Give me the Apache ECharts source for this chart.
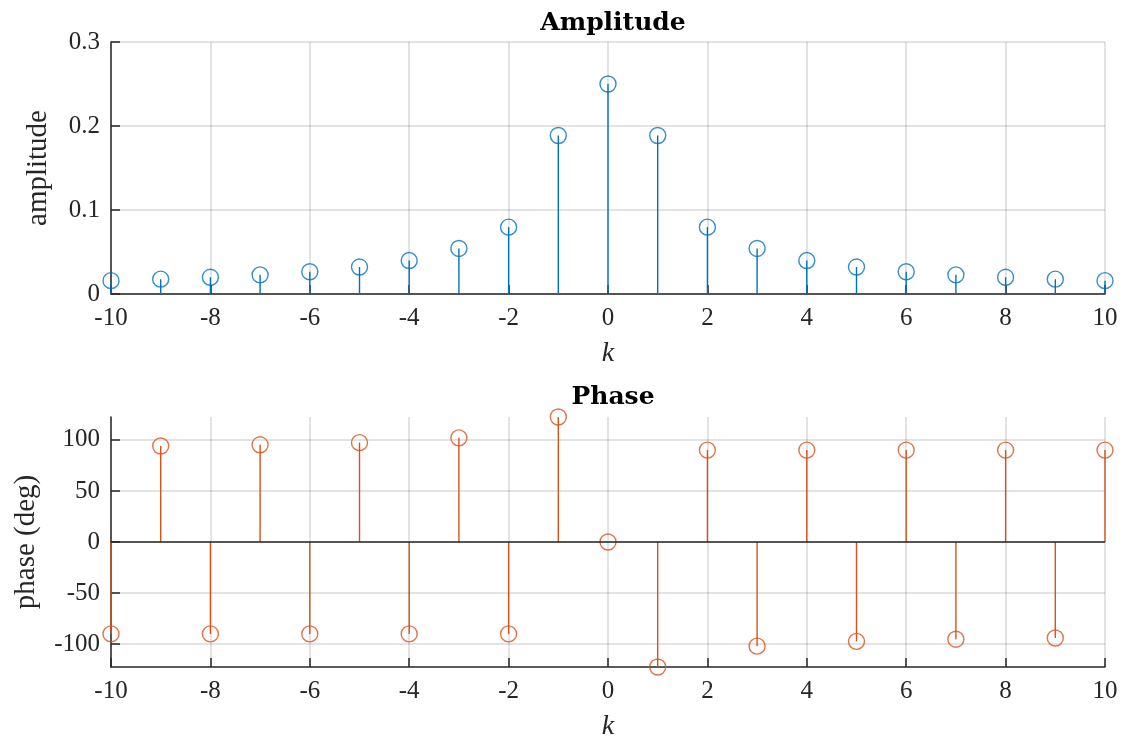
<!DOCTYPE html>
<html>
<head>
<meta charset="utf-8">
<script src="https://cdn.jsdelivr.net/npm/echarts@6/dist/echarts.min.js"></script>
<style>
  html, body { margin: 0; padding: 0; background: #fff; }
  #main { width: 1126px; height: 740px; }
</style>
</head>
<body>
<div id="main"></div>
<script>
var ks = [-10, -9, -8, -7, -6, -5, -4, -3, -2, -1, 0, 1, 2, 3, 4, 5, 6, 7, 8, 9, 10];
var amplitude = [0.0159, 0.0177, 0.0199, 0.0228, 0.0265, 0.0321, 0.0398, 0.0542, 0.0796, 0.1887, 0.25,
                 0.1887, 0.0796, 0.0542, 0.0398, 0.0321, 0.0265, 0.0228, 0.0199, 0.0177, 0.0159];
var phase = [-90, 94.0, -90, 95.2, -90, 97.3, -90, 102.0, -90, 122.4, 0,
             -122.4, 90, -102.0, 90, -97.3, 90, -95.2, 90, -94.0, 90];
var phaseTicks = [-100, -50, 0, 50, 100];

var blue = '#0072BD';
var orange = '#D95319';
var axisColor = '#262626';
var gridColor = 'rgba(38,38,38,0.17)';
var serif = '"Liberation Serif", "DejaVu Serif", serif';
var titleFont = '"DejaVu Serif", "Liberation Serif", serif';

var chartDom = document.getElementById('main');
var myChart = echarts.init(chartDom);

function pairs(vals) {
    return ks.map(function(k, i) { return [k, vals[i]]; });
}

function stemRenderer(color) {
    return function(params, api) {
        var p0 = api.coord([api.value(0), 0]);
        var p1 = api.coord([api.value(0), api.value(1)]);
        return {
            type: 'line',
            shape: { x1: p0[0], y1: p0[1], x2: p1[0], y2: p1[1] },
            style: { stroke: color, lineWidth: 1.4 }
        };
    };
}

function xAxisCfg(idx) {
    return {
        type: 'value',
        gridIndex: idx,
        min: -10,
        max: 10,
        interval: 2,
        name: 'k',
        nameLocation: 'middle',
        nameGap: 46,
        nameTextStyle: { fontFamily: serif, fontSize: 28, fontStyle: 'italic', color: axisColor },
        axisLine: { onZero: false, lineStyle: { color: axisColor, width: 1.5 } },
        axisTick: { inside: true, length: 9, lineStyle: { color: axisColor, width: 1.5 } },
        axisLabel: { fontFamily: serif, fontSize: 25, color: axisColor, margin: 12 },
        splitLine: { show: true, lineStyle: { color: gridColor, width: 1.5 } }
    };
}

function yAxisCfg(idx, name, gap) {
    return {
        type: 'value',
        gridIndex: idx,
        name: name,
        nameLocation: 'middle',
        nameGap: gap,
        nameTextStyle: { fontFamily: serif, fontSize: 29, color: axisColor },
        axisLine: { show: true, onZero: false, lineStyle: { color: axisColor, width: 1.5 } },
        axisTick: { show: true, inside: true, length: 9, lineStyle: { color: axisColor, width: 1.5 } },
        axisLabel: { fontFamily: serif, fontSize: 25, color: axisColor, margin: 11 },
        splitLine: { show: true, lineStyle: { color: gridColor, width: 1.5 } }
    };
}

var ampAxis = yAxisCfg(0, 'amplitude', 58);
ampAxis.min = 0;
ampAxis.max = 0.3;
ampAxis.interval = 0.1;

var phaseAxis = yAxisCfg(1, 'phase (deg)', 70);
phaseAxis.min = -122.4;
phaseAxis.max = 122.4;
phaseAxis.axisTick.customValues = phaseTicks;
phaseAxis.axisLabel.customValues = phaseTicks;

var option = {
    animation: false,
    title: [
        { text: 'Amplitude', left: 608, textAlign: 'center', top: 6,
          textStyle: { fontFamily: titleFont, fontSize: 25, fontWeight: 'bold', color: '#000' } },
        { text: 'Phase', left: 608, textAlign: 'center', top: 380,
          textStyle: { fontFamily: titleFont, fontSize: 25, fontWeight: 'bold', color: '#000' } }
    ],
    grid: [
        { left: 111, right: 21, top: 42, height: 252, outerBoundsMode: 'none', containLabel: false },
        { left: 111, right: 21, top: 417, height: 250, outerBoundsMode: 'none', containLabel: false }
    ],
    xAxis: [xAxisCfg(0), xAxisCfg(1)],
    yAxis: [ampAxis, phaseAxis],
    series: [
        {
            name: 'amplitude stems',
            type: 'custom',
            xAxisIndex: 0,
            yAxisIndex: 0,
            renderItem: stemRenderer(blue),
            data: pairs(amplitude),
            clip: false
        },
        {
            name: 'amplitude',
            type: 'scatter',
            xAxisIndex: 0,
            yAxisIndex: 0,
            symbol: 'circle',
            symbolSize: 16,
            itemStyle: { color: 'rgba(0,0,0,0)', borderColor: blue, borderWidth: 1.4 },
            data: pairs(amplitude),
            clip: false,
            z: 3
        },
        {
            name: 'phase stems',
            type: 'custom',
            xAxisIndex: 1,
            yAxisIndex: 1,
            renderItem: stemRenderer(orange),
            data: pairs(phase),
            clip: false,
            markLine: {
                silent: true,
                symbol: ['none', 'none'],
                label: { show: false },
                lineStyle: { color: axisColor, width: 1.5, type: 'solid' },
                data: [{ yAxis: 0 }]
            }
        },
        {
            name: 'phase',
            type: 'scatter',
            xAxisIndex: 1,
            yAxisIndex: 1,
            symbol: 'circle',
            symbolSize: 16,
            itemStyle: { color: 'rgba(0,0,0,0)', borderColor: orange, borderWidth: 1.4 },
            data: pairs(phase),
            clip: false,
            z: 3
        }
    ]
};

myChart.setOption(option);
</script>
</body>
</html>
